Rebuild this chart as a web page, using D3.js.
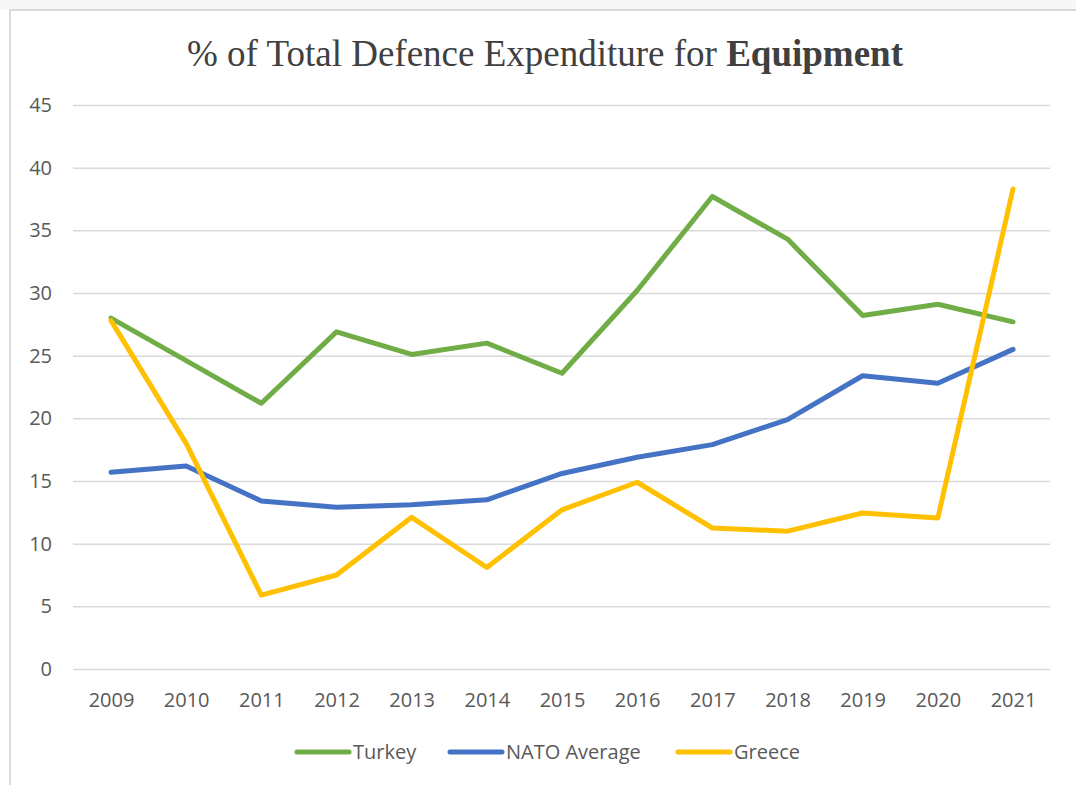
<!DOCTYPE html>
<html>

<head>
    <meta charset="utf-8">
    <title>% of Total Defence Expenditure for Equipment</title>
    <style>
        body {
            margin: 0;
            background: #fff;
        }

        .tick text {
            font-family: "Open Sans", "Liberation Sans", sans-serif;
            font-size: 20px;
            fill: #595959;
        }
    </style>
    <script src="https://cdn.jsdelivr.net/npm/d3@7"></script>
</head>

<body>
    <script>
        // data
        var years = ["2009", "2010", "2011", "2012", "2013", "2014", "2015", "2016", "2017", "2018", "2019", "2020", "2021"];
        var turkey = [28.0, 24.6, 21.2, 26.9, 25.1, 26.0, 23.6, 30.2, 37.7, 34.3, 28.2, 29.1, 27.7];
        var nato = [15.7, 16.2, 13.4, 12.9, 13.1, 13.5, 15.6, 16.9, 17.9, 19.9, 23.4, 22.8, 25.5];
        var greece = [27.8, 18.0, 5.9, 7.5, 12.1, 8.1, 12.7, 14.9, 11.25, 11.0, 12.45, 12.05, 38.3];
        var yTicks = [0, 5, 10, 15, 20, 25, 30, 35, 40, 45];

        var series = [
            { name: "Turkey", values: turkey, color: "#70AD47" },
            { name: "NATO Average", values: nato, color: "#4472C4" },
            { name: "Greece", values: greece, color: "#FFC000" }
        ];

        var W = 1076, H = 785;
        var margin = { top: 105, right: 26, bottom: 116, left: 73 },
            width = W - margin.left - margin.right,
            height = H - margin.top - margin.bottom;

        var svg = d3.select("body").append("svg")
            .attr("width", W)
            .attr("height", H);

        // outer frame (screenshot of a chart box)
        svg.append("rect")
            .attr("x", 0).attr("y", 0)
            .attr("width", W).attr("height", 10)
            .attr("fill", "#f7f7f7");
        svg.append("rect")
            .attr("x", 10).attr("y", 10)
            .attr("width", W + 10).attr("height", H + 10)
            .attr("fill", "#fff")
            .attr("stroke", "#d9d9d9")
            .attr("stroke-width", 2);

        // title
        var title = svg.append("text")
            .attr("x", 545)
            .attr("y", 66)
            .attr("text-anchor", "middle")
            .attr("font-family", "'Liberation Serif', 'Times New Roman', serif")
            .attr("font-size", 37)
            .attr("fill", "#404040");
        title.append("tspan").text("% of Total Defence Expenditure for ");
        title.append("tspan").attr("font-weight", "bold").text("Equipment");

        var g = svg.append("g")
            .attr("transform", "translate(" + margin.left + "," + margin.top + ")");

        // scales
        var x = d3.scalePoint()
            .domain(years)
            .range([38, width - 37]);
        var y = d3.scaleLinear()
            .domain([0, 45])
            .range([height, 0]);

        // gridlines + y labels
        var yAxis = g.append("g")
            .call(d3.axisLeft(y).tickValues(yTicks).tickSize(-width).tickPadding(21).tickFormat(d3.format("d")));
        yAxis.select(".domain").remove();
        yAxis.selectAll(".tick line")
            .attr("stroke", "#d9d9d9")
            .attr("stroke-width", 1.5);

        // x labels
        var xAxis = g.append("g")
            .attr("transform", "translate(0," + height + ")")
            .call(d3.axisBottom(x).tickSize(0).tickPadding(24));
        xAxis.select(".domain").remove();

        // lines
        var line = d3.line()
            .x(function(d, i) { return x(years[i]); })
            .y(function(d) { return y(d); });

        g.selectAll(".series")
            .data(series)
            .enter().append("path")
            .attr("class", "series")
            .attr("d", function(s) { return line(s.values); })
            .attr("fill", "none")
            .attr("stroke", function(s) { return s.color; })
            .attr("stroke-width", 5)
            .attr("stroke-linejoin", "round")
            .attr("stroke-linecap", "round");

        // legend
        var legendX = [297, 450, 678];
        var legend = svg.selectAll(".legend")
            .data(series)
            .enter().append("g")
            .attr("class", "legend")
            .attr("transform", function(d, i) { return "translate(" + legendX[i] + ",752)"; });
        legend.append("line")
            .attr("x1", 0).attr("x2", 52)
            .attr("stroke", function(d) { return d.color; })
            .attr("stroke-width", 5)
            .attr("stroke-linecap", "round");
        legend.append("text")
            .attr("x", 56)
            .attr("dy", "0.35em")
            .attr("font-family", "'Open Sans', 'Liberation Sans', sans-serif")
            .attr("font-size", 20)
            .attr("fill", "#595959")
            .text(function(d) { return d.name; });
    </script>
</body>

</html>
